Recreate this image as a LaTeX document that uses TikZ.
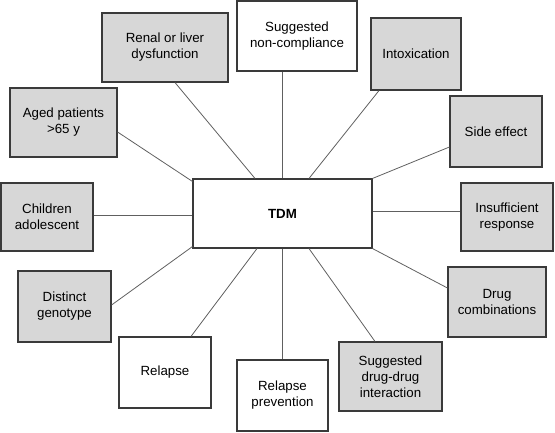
\documentclass[tikz,border=0pt]{standalone}
\usepackage{fontspec}
\setmainfont{Liberation Sans}
\definecolor{boxgray}{HTML}{D7D7D7}
\definecolor{edgecol}{HTML}{3A3A3A}
\definecolor{linkcol}{HTML}{606060}
\begin{document}
\begin{tikzpicture}[x=1pt,y=-1pt,
  box/.style={draw=edgecol, line width=1.1pt, rectangle, inner sep=0pt, align=center,
    font=\fontsize{13.3}{16}\selectfont},
  gbox/.style={box, fill=boxgray},
  wbox/.style={box, fill=white},
  link/.style={draw=linkcol, line width=0.8pt}]
\useasboundingbox (0,0) rectangle (555,432);
\node[wbox, minimum width=179pt, minimum height=69pt, font=\fontsize{13.3}{16}\selectfont\bfseries] (tdm) at (282.5,213.5) {TDM};
\node[gbox, minimum width=126pt, minimum height=69pt] (renal) at (165,47.5) {Renal or liver\\dysfunction};
\node[wbox, minimum width=120pt, minimum height=70pt] (noncomp) at (297,36) {Suggested\\non-compliance};
\node[gbox, minimum width=90pt, minimum height=72pt] (intox) at (416,54) {Intoxication};
\node[gbox, minimum width=107pt, minimum height=69pt] (aged) at (63.5,122.5) {Aged patients\\>65 y};
\node[gbox, minimum width=92pt, minimum height=71pt] (side) at (496,131.5) {Side effect};
\node[gbox, minimum width=92pt, minimum height=68pt] (child) at (47,217) {Children\\adolescent};
\node[gbox, minimum width=92pt, minimum height=68pt] (insuf) at (507,217) {Insufficient\\response};
\node[gbox, minimum width=93pt, minimum height=71pt] (geno) at (64.5,306.5) {Distinct\\genotype};
\node[gbox, minimum width=98pt, minimum height=70pt] (combi) at (497,302) {Drug\\combinations};
\node[wbox, minimum width=92pt, minimum height=71pt] (relapse) at (165,372.5) {Relapse};
\node[wbox, minimum width=91pt, minimum height=71pt] (prev) at (282.5,395.5) {Relapse\\prevention};
\node[gbox, minimum width=103pt, minimum height=69pt] (ddi) at (390.5,376.5) {Suggested\\drug-drug\\interaction};
\draw[link] ([xshift=10pt]renal.south) -- ([xshift=-27.5pt]tdm.north);
\draw[link] (tdm.north) -- (tdm.north |- noncomp.south);
\draw[link] ([xshift=-37pt]intox.south) -- ([xshift=26.5pt]tdm.north);
\draw[link] ([yshift=-9.5pt]aged.east) -- ([yshift=-3pt]tdm.north west);
\draw[link] ([yshift=-15.5pt]side.west) -- (tdm.north east);
\draw[link] ([yshift=2pt]child.east) -- ([yshift=2pt]child.east -| tdm.west);
\draw[link] ([yshift=2pt]tdm.east) -- ([yshift=2pt]tdm.east -| insuf.west);
\draw[link] ([yshift=1.5pt]geno.east) -- ([yshift=2pt]tdm.south west);
\draw[link] ([xshift=26pt]relapse.north) -- ([xshift=-25.5pt]tdm.south);
\draw[link] (tdm.south) -- (prev.north);
\draw[link] (tdm.south east) -- ([yshift=14pt]combi.west);
\draw[link] ([xshift=26.5pt]tdm.south) -- ([xshift=-15.5pt]ddi.north);
\end{tikzpicture}
\end{document}
